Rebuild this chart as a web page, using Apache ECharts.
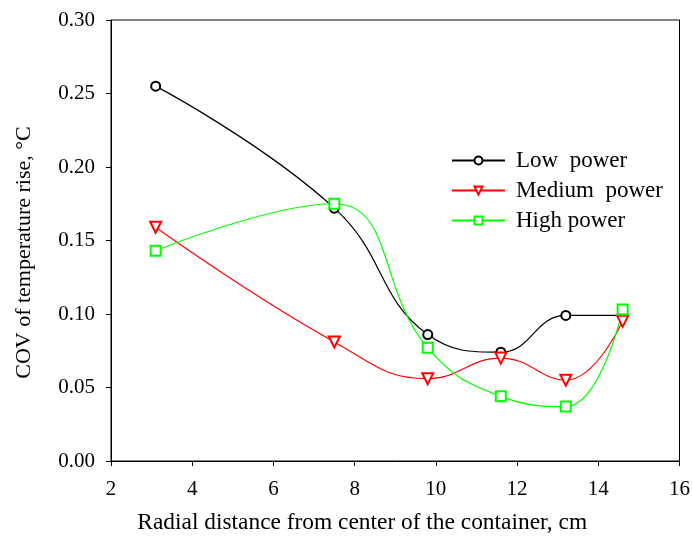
<!DOCTYPE html>
<html>
<head>
<meta charset="utf-8">
<script src="https://cdn.jsdelivr.net/npm/echarts@6/dist/echarts.min.js"></script>
<style>html,body{margin:0;padding:0;background:#fff}#c{width:693px;height:540px}</style>
</head>
<body>
<div id="c"></div>
<script>
const distances = [3.1, 7.5, 9.8, 11.6, 13.2, 14.6];
const lowPower = [0.255, 0.172, 0.086, 0.074, 0.099, 0.099];
const mediumPower = [0.159, 0.081, 0.056, 0.070, 0.055, 0.095];
const highPower = [0.143, 0.175, 0.077, 0.044, 0.037, 0.103];
const seriesNames = ['Low  power', 'Medium  power', 'High power'];
const xTitle = 'Radial distance from center of the container, cm';
const yTitle = 'COV of temperature rise, °C';

const font = 'Liberation Serif';
const pair = (ys) => distances.map((x, i) => [x, ys[i]]);
const SMOOTH = 0.45;

const chart = echarts.init(document.getElementById('c'));
chart.setOption({
  backgroundColor: '#fff',
  animation: false,
  textStyle: { fontFamily: font },
  grid: { left: 111, right: 12, top: 20, bottom: 79, show: true, borderColor: '#000', borderWidth: 1 },
  legend: {
    orient: 'vertical',
    left: 446, top: 144,
    itemWidth: 53, itemHeight: 10, itemGap: 7,
    textStyle: { fontFamily: font, fontSize: 23, color: '#000', padding: [0, 0, 0, 6] },
    data: seriesNames
  },
  xAxis: {
    type: 'value', min: 2, max: 16, interval: 2,
    name: xTitle, nameLocation: 'middle', nameGap: 50,
    nameTextStyle: { fontFamily: font, fontSize: 23.4, color: '#000', padding: [0, 66, 0, 0] },
    axisLine: { lineStyle: { color: '#000', width: 1 } },
    axisTick: { show: true, length: 5, lineStyle: { color: '#000' } },
    axisLabel: { fontFamily: font, fontSize: 21, color: '#000', margin: 18 },
    splitLine: { show: false }
  },
  yAxis: {
    type: 'value', min: 0, max: 0.3, interval: 0.05,
    name: yTitle, nameLocation: 'middle', nameGap: 76, nameRotate: 90,
    nameTextStyle: { fontFamily: font, fontSize: 22, color: '#000', padding: [0, 24, 0, 0] },
    axisLine: { show: true, lineStyle: { color: '#000', width: 1 } },
    axisTick: { show: true, length: 5, lineStyle: { color: '#000' } },
    axisLabel: { fontFamily: font, fontSize: 21, color: '#000', margin: 16, formatter: v => v.toFixed(2) },
    splitLine: { show: false }
  },
  series: [
    { name: seriesNames[0], type: 'line', data: pair(lowPower), smooth: SMOOTH,
      symbol: 'emptyCircle', symbolSize: 9, color: '#000',
      lineStyle: { color: '#000', width: 1.2 }, itemStyle: { color: '#000', borderWidth: 1.2 } },
    { name: seriesNames[1], type: 'line', data: pair(mediumPower), smooth: SMOOTH,
      symbol: 'emptyTriangle', symbolRotate: 180, symbolSize: 11, color: '#ff0000',
      lineStyle: { color: '#ff0000', width: 1.2 }, itemStyle: { color: '#ff0000', borderWidth: 1.2 } },
    { name: seriesNames[2], type: 'line', data: pair(highPower), smooth: SMOOTH,
      symbol: 'emptyRect', symbolSize: 10, color: '#00ff00',
      lineStyle: { color: '#00ff00', width: 1.2 }, itemStyle: { color: '#00ff00', borderWidth: 1.2 } }
  ]
});
</script>
</body>
</html>
